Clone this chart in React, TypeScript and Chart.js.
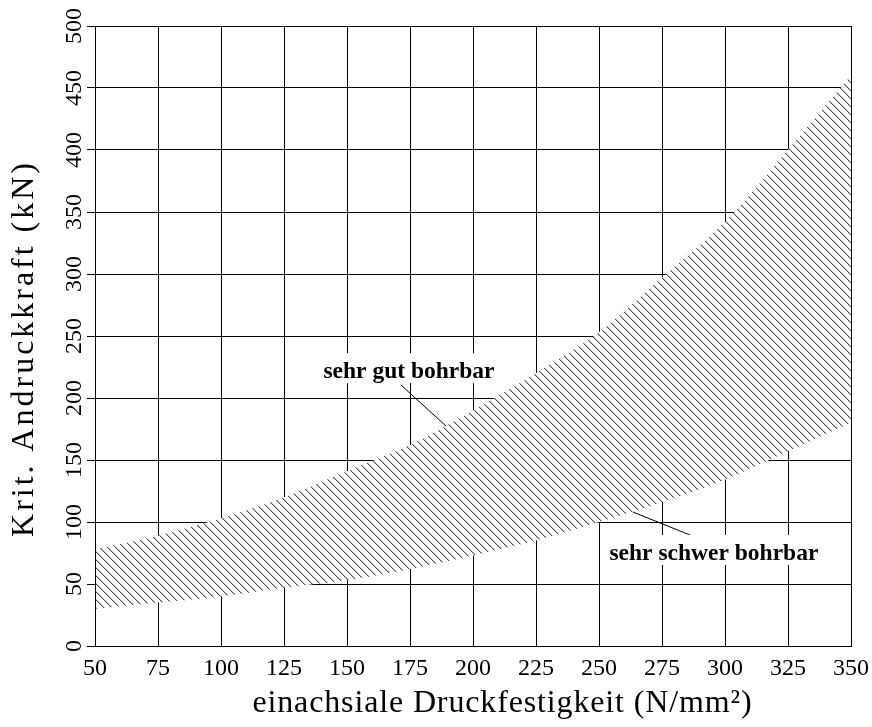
import React, { useEffect, useRef } from "react";
import { Chart, registerables } from "chart.js";

Chart.register(...registerables);

// x: uniaxial compressive strength (N/mm²)
const strengthValues = [50, 75, 100, 125, 150, 175, 200, 225, 250, 275, 300, 325, 350];
// upper edge of hatched band (kN)
const upperBound = [78, 89, 103, 120, 141, 162, 190, 220, 253, 297, 342, 400, 460];
// lower edge of hatched band (kN)
const lowerBound = [30, 35, 40, 47, 53, 62, 73, 85, 100, 116, 134, 157, 180];

const xTickValues = [50, 75, 100, 125, 150, 175, 200, 225, 250, 275, 300, 325, 350];
const yTickValues = [0, 50, 100, 150, 200, 250, 300, 350, 400, 450, 500];

const xTitle = "einachsiale Druckfestigkeit (N/mm²)";
const yTitle = "Krit. Andruckkraft (kN)";

// annotation labels (data coordinates of text baseline centre and leader line)
const labelTexts = ["sehr gut bohrbar", "sehr schwer bohrbar"];
const labelX = [174.6, 295.6];
const labelY = [216, 69.4];
const leaderFromX = [171.4, 263.5];
const leaderFromY = [210.5, 108];
const leaderToX = [189.3, 292.9];
const leaderToY = [177.4, 84];

const FONT = '"Liberation Serif", "Times New Roman", serif';

function makeHatch(): CanvasPattern | string {
  const c = document.createElement("canvas");
  c.width = 8;
  c.height = 8;
  const g = c.getContext("2d");
  if (!g) return "#fff";
  g.fillStyle = "#fff";
  g.fillRect(0, 0, 8, 8);
  for (let i = 0; i < 8; i++) {
    g.fillStyle = "#c4c4c4";
    g.fillRect((i + 1) % 8, i, 1, 1);
    g.fillStyle = "#4a4a4a";
    g.fillRect(i, i, 1, 1);
  }
  return g.createPattern(c, "repeat") || "#fff";
}

function drawSpaced(
  ctx: CanvasRenderingContext2D,
  text: string,
  cx: number,
  cy: number,
  targetWidth: number,
  rotate: boolean
) {
  ctx.save();
  const natural = ctx.measureText(text).width;
  const spacing = Math.max(0, (targetWidth - natural) / Math.max(1, text.length - 1));
  (ctx as any).letterSpacing = `${spacing.toFixed(2)}px`;
  const w = ctx.measureText(text).width - spacing;
  ctx.translate(cx, cy);
  if (rotate) ctx.rotate(-Math.PI / 2);
  ctx.textAlign = "left";
  ctx.textBaseline = "alphabetic";
  ctx.fillText(text, -w / 2, 0);
  ctx.restore();
}

const overlayPlugin = {
  id: "overlay",
  afterDatasetsDraw(chart: any) {
    const ctx = chart.ctx as CanvasRenderingContext2D;
    const xs = chart.scales.x;
    const ys = chart.scales.y;
    const a = chart.chartArea;
    ctx.save();
    // frame
    ctx.strokeStyle = "#000";
    ctx.lineWidth = 1;
    ctx.beginPath();
    ctx.rect(Math.round(a.left) + 0.5, Math.round(a.top) + 0.5, Math.round(a.right - a.left), Math.round(a.bottom - a.top));
    ctx.stroke();
    // leader lines
    for (let i = 0; i < labelTexts.length; i++) {
      ctx.beginPath();
      ctx.moveTo(xs.getPixelForValue(leaderFromX[i]), ys.getPixelForValue(leaderFromY[i]));
      ctx.lineTo(xs.getPixelForValue(leaderToX[i]), ys.getPixelForValue(leaderToY[i]));
      ctx.stroke();
    }
    // labels
    ctx.font = `bold 23.5px ${FONT}`;
    ctx.textAlign = "center";
    ctx.textBaseline = "alphabetic";
    for (let i = 0; i < labelTexts.length; i++) {
      const px = xs.getPixelForValue(labelX[i]);
      const py = ys.getPixelForValue(labelY[i]);
      const w = ctx.measureText(labelTexts[i]).width;
      ctx.fillStyle = "#fff";
      ctx.fillRect(px - w / 2 - 3, py - 25, w + 6, 30);
      ctx.fillStyle = "#000";
      ctx.fillText(labelTexts[i], px, py);
    }
    // axis titles
    ctx.fillStyle = "#000";
    ctx.font = `32px ${FONT}`;
    drawSpaced(ctx, xTitle, 502, 712, 499, false);
    drawSpaced(ctx, yTitle, 33, 350, 374, true);
    ctx.restore();
  },
};

export default function App() {
  const ref = useRef<HTMLCanvasElement | null>(null);
  useEffect(() => {
    if (!ref.current) return;
    const hatch = makeHatch();
    const chart = new Chart(ref.current, {
      type: "line",
      data: {
        labels: strengthValues,
        datasets: [
          {
            label: "lower",
            data: strengthValues.map((x, i) => ({ x, y: lowerBound[i] })),
            borderWidth: 0,
            borderColor: "rgba(0,0,0,0)",
            pointRadius: 0,
            fill: false,
            tension: 0.3,
          },
          {
            label: "upper",
            data: strengthValues.map((x, i) => ({ x, y: upperBound[i] })),
            borderWidth: 0,
            borderColor: "rgba(0,0,0,0)",
            pointRadius: 0,
            fill: "-1",
            backgroundColor: hatch as any,
            tension: 0.3,
          },
        ],
      },
      options: {
        animation: false,
        responsive: true,
        maintainAspectRatio: false,
        layout: { padding: { top: 26, right: 21, left: 0, bottom: 0 } },
        plugins: { legend: { display: false }, tooltip: { enabled: false } },
        scales: {
          x: {
            type: "linear",
            min: 50,
            max: 350,
            afterBuildTicks: (s: any) => {
              s.ticks = xTickValues.map((v) => ({ value: v }));
            },
            afterFit: (s: any) => {
              s.height = 81;
              s.paddingLeft = 0;
              s.paddingRight = 0;
            },
            grid: { color: "#000", lineWidth: 1, drawTicks: false },
            border: { display: true, color: "#000" },
            ticks: {
              color: "#000",
              font: { family: FONT, size: 24 },
              maxRotation: 0,
              autoSkip: false,
              padding: 8,
            },
          },
          y: {
            type: "linear",
            min: 0,
            max: 500,
            afterBuildTicks: (s: any) => {
              s.ticks = yTickValues.map((v) => ({ value: v }));
            },
            afterFit: (s: any) => {
              s.width = 95;
              s.paddingTop = 0;
              s.paddingBottom = 0;
            },
            grid: { color: "#000", lineWidth: 1, drawTicks: true, tickLength: 8 },
            border: { display: true, color: "#000" },
            ticks: {
              color: "#000",
              font: { family: FONT, size: 24 },
              minRotation: 90,
              maxRotation: 90,
              crossAlign: "center",
              autoSkip: false,
              padding: -6,
            },
          },
        },
      },
      plugins: [overlayPlugin],
    });
    return () => chart.destroy();
  }, []);
  return (
    <div style={{ position: "absolute", left: 0, top: 0, width: 872, height: 727 }}>
      <canvas ref={ref} />
    </div>
  );
}
